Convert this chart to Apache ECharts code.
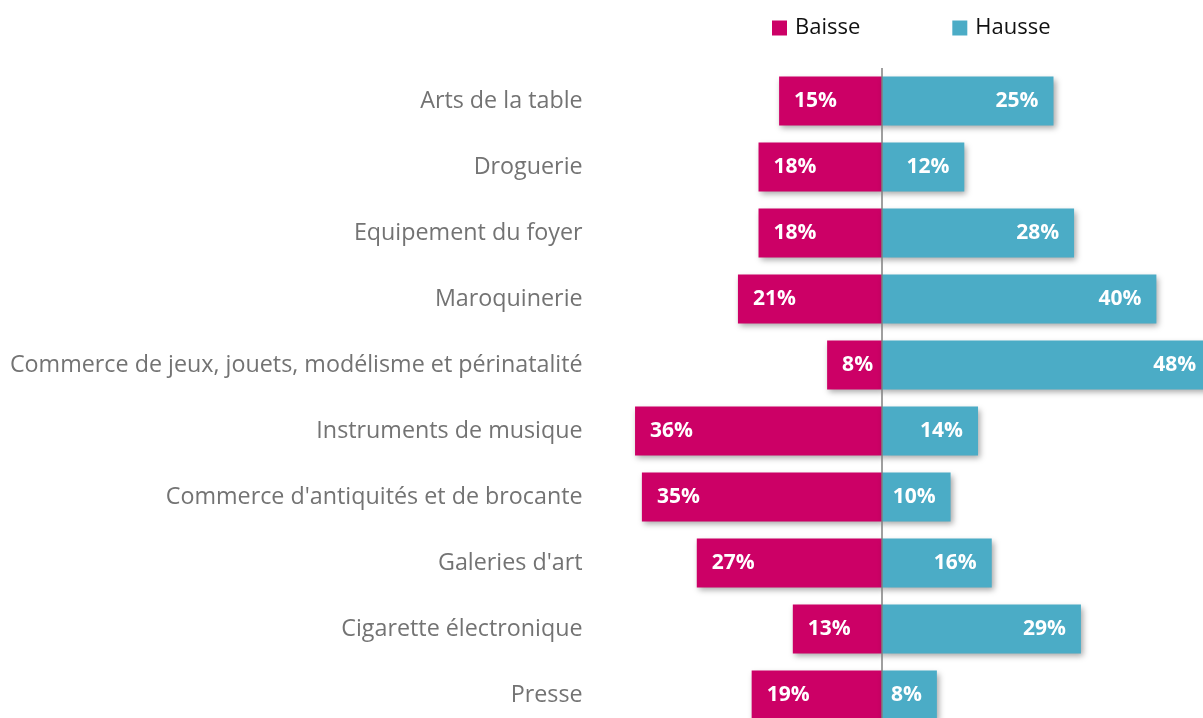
<!DOCTYPE html>
<html>
<head>
<meta charset="utf-8">
<script src="https://cdn.jsdelivr.net/npm/echarts@6/dist/echarts.min.js"></script>
<style>
html,body{margin:0;padding:0;background:#fff;}
#chart{width:1203px;height:718px;}
</style>
</head>
<body>
<div id="chart"></div>
<script>
const categories = ["Arts de la table","Droguerie","Equipement du foyer","Maroquinerie","Commerce de jeux, jouets, modélisme et périnatalité","Instruments de musique","Commerce d'antiquités et de brocante","Galeries d'art","Cigarette électronique","Presse"];
const baisse = [15,18,18,21,8,36,35,27,13,19];
const hausse = [25,12,28,40,48,14,10,16,29,8];

const FONT = "'Open Sans', sans-serif";
const chart = echarts.init(document.getElementById('chart'));
const shadow = {shadowColor:'rgba(0,0,0,0.35)', shadowBlur:6, shadowOffsetX:2, shadowOffsetY:3};
chart.setOption({
  animation:false,
  legend:{
    top:12, left:767, itemWidth:15, itemHeight:15, itemGap:92, icon:'rect',
    textStyle:{fontFamily:FONT, fontSize:22, color:'#111', padding:[0,0,0,3]},
    data:['Baisse','Hausse']
  },
  grid:{left:607.6, top:68, width:617.4, height:660, containLabel:false, outerBoundsMode:'none'},
  xAxis:{type:'value', min:-40, max:50, show:false},
  yAxis:{type:'category', data:categories, inverse:true,
    axisLine:{show:false}, axisTick:{show:false},
    axisLabel:{margin:25, fontFamily:FONT, fontSize:23.3, color:'#737373'}
  },
  series:[
    {name:'Baisse', type:'bar', stack:'s', barCategoryGap:'26%',
     data:baisse.map(v=>-v),
     itemStyle:Object.assign({color:'#CC0066'}, shadow),
     label:{show:true, position:'insideLeft', distance:15, color:'#fff', fontWeight:'bold', fontFamily:FONT, fontSize:21,
       formatter:p=>Math.abs(p.value)+'%'},
     markLine:{silent:true, symbol:'none', label:{show:false},
       lineStyle:{color:'#7f7f7f', width:1.5, type:'solid'},
       data:[{xAxis:0}]}
    },
    {name:'Hausse', type:'bar', stack:'s', barCategoryGap:'26%',
     data:hausse,
     itemStyle:Object.assign({color:'#4BACC6'}, shadow),
     label:{show:true, position:'insideRight', distance:15, color:'#fff', fontWeight:'bold', fontFamily:FONT, fontSize:21,
       formatter:p=>p.value+'%'}
    }
  ]
});
</script>
</body>
</html>
